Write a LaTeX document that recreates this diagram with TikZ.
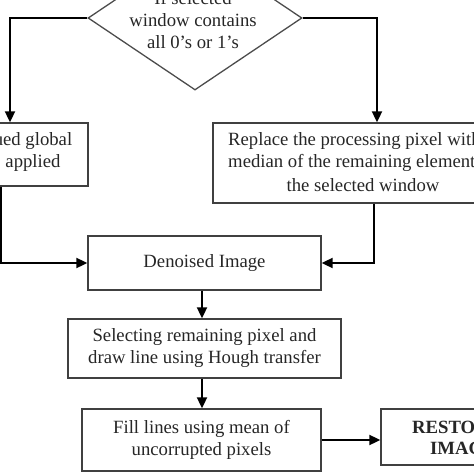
\documentclass[tikz,border=0pt]{standalone}
\usepackage{fontspec}
\setmainfont{Liberation Serif}
\usetikzlibrary{arrows.meta,shapes.geometric}
\begin{document}
\begin{tikzpicture}[x=1pt,y=-1pt,
  font=\fontsize{18.7}{22}\selectfont,
  box/.style={draw=black!75, line width=1.3pt, inner sep=0pt, align=center, text=black!85},
  arr/.style={draw=black, line width=1.8pt, -{Triangle[length=11pt,width=10pt]}},
  txt/.style={inner sep=0pt, align=center, text=black!85}]
\useasboundingbox (0,0) rectangle (474,474);
\clip (0,0) rectangle (474,474);
% helper coordinates
\coordinate (lxa) at (10,0);
\coordinate (lxb) at (1,0);
\coordinate (rxa) at (377,0);
\coordinate (rxb) at (374,0);
\coordinate (cx) at (202,0);
% decision
\node[draw=black!70, line width=1.3pt, diamond, minimum width=214pt, minimum height=144pt, inner sep=0pt] (dec) at (195,18) {};
\node[txt] (dtext) at (193,20) {If selected\\window contains\\all 0’s or 1’s};
% left box
\node[box, minimum width=148pt, minimum height=63pt] (lbox) at (14,154.5) {};
\node[txt] (ltext) at (33,152.5) {ued global\\applied};
% right box
\node[box, minimum width=300pt, minimum height=80pt] (repl) at (363,163) {};
\node[txt, anchor=west, align=left] (rtext) at (228,152.5) {Replace the processing pixel with\\median of the remaining element};
\node[txt] (rtext2) at (363,185) {the selected window};
% main column
\node[box, minimum width=233pt, minimum height=54pt] (den) at (204.5,263) {Denoised Image};
\node[box, minimum width=273pt, minimum height=59pt] (sel) at (204.5,348.5) {Selecting remaining pixel and\\draw line using Hough transfer};
\node[box, minimum width=239pt, minimum height=62pt] (fill) at (201.5,440) {Fill lines using mean of\\uncorrupted pixels};
\node[box, minimum width=164pt, minimum height=56pt] (rest) at (463,437) {};
\node[txt, anchor=west, font=\fontsize{18.7}{22}\selectfont\bfseries] (rt1) at (412,427) {RESTO};
\node[txt, anchor=west, font=\fontsize{18.7}{22}\selectfont\bfseries] (rt2) at (430,448) {IMAG};
% connectors
\draw[arr] (dec.west) -| (lbox.north -| lxa);
\draw[arr] (lbox.south -| lxb) |- (den.west);
\draw[arr] (dec.east) -| (repl.north -| rxa);
\draw[arr] (repl.south -| rxb) |- (den.east);
\draw[arr] (den.south -| cx) -- (sel.north -| cx);
\draw[arr] (sel.south -| cx) -- (fill.north -| cx);
\draw[arr] (fill.east) -- (rest.west |- fill.east);
\end{tikzpicture}
\end{document}
